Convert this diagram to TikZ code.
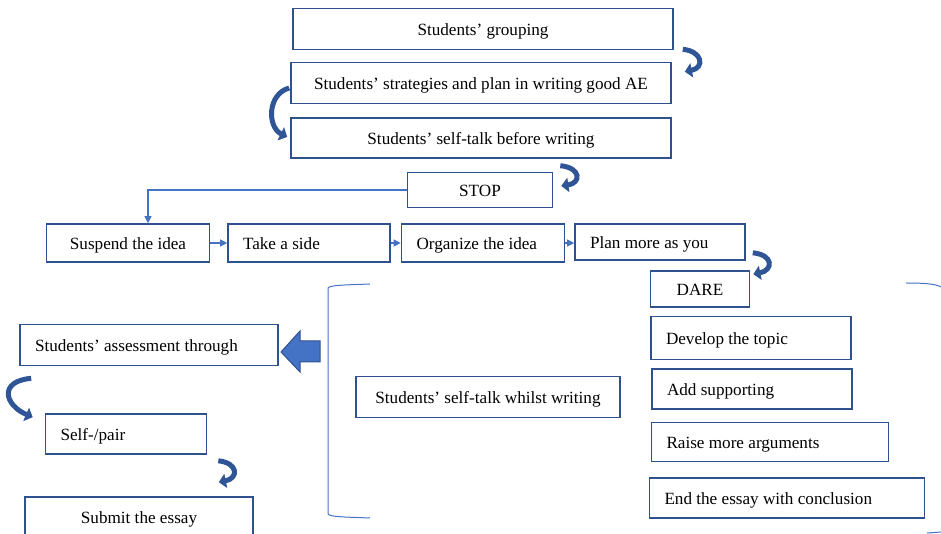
\documentclass[tikz,border=0pt]{standalone}
\usepackage{fontspec}
\setmainfont{Liberation Serif}
\usetikzlibrary{arrows.meta}
\newdimen\px \px=0.7pt
\definecolor{boxblue}{RGB}{47,82,143}
\definecolor{linkblue}{RGB}{68,114,196}
\definecolor{curvblue}{RGB}{47,85,151}
\begin{document}
\begin{tikzpicture}[x=\px, y=-\px,
    font=\fontsize{12}{14}\selectfont,
    box/.style={draw=boxblue, line width=1.6\px, fill=white, inner sep=0pt, text height=10.5pt, text depth=2pt},
    cbox/.style={box, minimum height=#1},
    lbox/.style={box, inner xsep=15\px, align=flush left, text width=#1},
    link/.style={draw=linkblue, line width=1.1\px, -{Triangle[length=5pt,width=5pt]}},
    curvarrow/.style={draw=curvblue, line width=5\px, -{Triangle[length=5pt,width=10pt]}},
    brk/.style={draw=linkblue, line width=1\px}]
  \useasboundingbox (0,0) rectangle (941,534);
  \clip (0,0) rectangle (941,534);
  % top column
  \node[cbox=41\px, minimum width=380\px] (group) at (483,29) {Students’ grouping};
  \node[cbox=41\px, minimum width=380\px] (strat) at (481,83) {Students’ strategies and plan in writing good AE};
  \node[cbox=40\px, minimum width=380\px] (before) at (481,138) {Students’ self-talk before writing};
  \node[cbox=35\px, minimum width=145\px] (stop) at (480,190) {STOP};
  % STOP row
  \node[cbox=38\px, minimum width=163\px] (suspend) at (128,243) {Suspend the idea};
  \node[lbox=132\px, minimum height=38\px] (side) at (309,243) {Take a side};
  \node[lbox=133\px, minimum height=38\px] (organize) at (483,243) {Organize the idea};
  \node[lbox=140\px, minimum height=36\px] (plan) at (660,242) {Plan more as you};
  % DARE column
  \node[cbox=36\px, minimum width=99\px] (dare) at (700,289) {DARE};
  \node[lbox=170\px, minimum height=43\px] (develop) at (751,338) {Develop the topic};
  \node[lbox=170\px, minimum height=40\px] (addsup) at (752,389) {Add supporting};
  \node[lbox=207\px, minimum height=39\px] (raise) at (770,442) {Raise more arguments};
  \node[lbox=245\px, minimum height=40\px] (conclude) at (787,498) {End the essay with conclusion};
  % whilst writing
  \node[cbox=41\px, minimum width=264\px] (whilst) at (488,397) {Students’ self-talk whilst writing};
  \draw[brk] (370,284) .. controls (345,285) and (330,285) .. (328,288) -- (328,514)
    .. controls (330,517) and (345,517) .. (370,518);
  \draw[brk] (906,283) .. controls (925,283) and (936,284) .. (941,287);
  \draw[brk] (927,533) -- (941,532);
  % assessment column
  \node[lbox=228\px, minimum height=41\px] (assess) at (149,345) {Students’ assessment through};
  \node[lbox=131\px, minimum height=40\px] (pair) at (126,434) {Self-/pair};
  \node[cbox=40\px, minimum width=228\px] (submit) at (139,517) {Submit the essay};
  \fill[linkblue, draw=boxblue, line width=1\px] (320,341) -- (300,341) -- (300,331)
    -- (281,352) -- (300,372) -- (300,362) -- (320,362) -- cycle;
  % thin links
  \draw[link] (stop.west) -| ([xshift=20\px]suspend.north);
  \draw[link] (suspend) -- (side);
  \draw[link] (side) -- (organize);
  \draw[link] (organize) -- (plan.west |- organize);
  % curved arrows
  \draw[curvarrow] ([xshift=9\px,yshift=1\px]group.south east) .. controls +(20,2) and +(20,-4) .. ([xshift=13\px,yshift=-10\px]strat.north east);
  \draw[curvarrow] ([xshift=-1\px,yshift=-5\px]strat.west) .. controls +(-22,6) and +(-20,-10) .. ([xshift=-3\px,yshift=1\px]before.west);
  \draw[curvarrow] ([xshift=7\px,yshift=6\px]stop.north east) .. controls +(21,2) and +(20,-3) .. ([xshift=8\px,yshift=4\px]stop.east);
  \draw[curvarrow] ([xshift=7\px,yshift=8\px]plan.south east) .. controls +(21,2) and +(20,-4) .. ([xshift=3\px,yshift=-4\px]dare.north east);
  \draw[curvarrow] ([xshift=12\px,yshift=-12\px]assess.south west) .. controls +(-33,3) and +(-28,-12) .. ([xshift=-12\px,yshift=-4\px]pair.north west);
  \draw[curvarrow] ([xshift=11\px,yshift=-6\px]pair.south east) .. controls +(20,2) and +(20,-4) .. ([xshift=-35\px,yshift=14\px]submit.north east);
\end{tikzpicture}
\end{document}
